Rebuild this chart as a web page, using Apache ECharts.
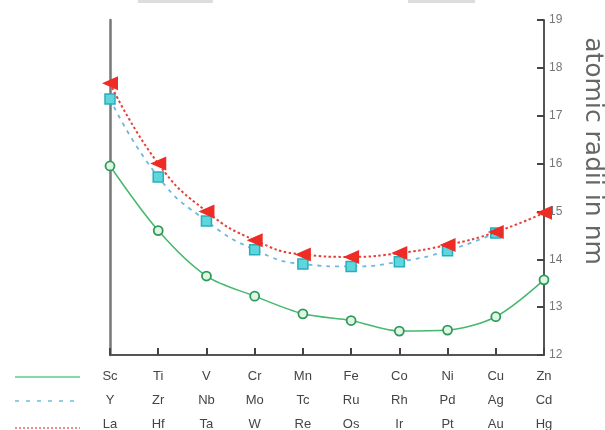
<!DOCTYPE html>
<html>
<head>
<meta charset="utf-8">
<script src="https://cdn.jsdelivr.net/npm/echarts@6/dist/echarts.min.js"></script>
<style>
  html, body { margin: 0; padding: 0; background: #fff; }
  #chart { width: 605px; height: 430px; }
</style>
</head>
<body>
<div id="chart"></div>
<script>
// element rows under the x axis
const row3d = ['Sc', 'Ti', 'V', 'Cr', 'Mn', 'Fe', 'Co', 'Ni', 'Cu', 'Zn'];
const row4d = ['Y', 'Zr', 'Nb', 'Mo', 'Tc', 'Ru', 'Rh', 'Pd', 'Ag', 'Cd'];
const row5d = ['La', 'Hf', 'Ta', 'W', 'Re', 'Os', 'Ir', 'Pt', 'Au', 'Hg'];

// atomic radii (x10 nm scale as drawn)
const radii3d = [15.95, 14.6, 13.65, 13.23, 12.86, 12.72, 12.5, 12.52, 12.8, 13.57];
const radii4d = [17.35, 15.72, 14.8, 14.2, 13.9, 13.85, 13.95, 14.18, 14.55, null];
const radii5d = [17.68, 16.0, 15.0, 14.4, 14.1, 14.05, 14.13, 14.3, 14.57, 14.97];

const yTicks = { min: 12, max: 19, step: 1 };

let myChart = echarts.init(document.getElementById('chart'));
myChart.setOption({
    animation: false,
    backgroundColor: '#fff',
    grid: {
        left: 110,
        right: 61,
        top: 20,
        bottom: 75,
        containLabel: false,
        outerBoundsMode: 'none'
    },
    xAxis: {
        type: 'category',
        boundaryGap: false,
        data: row3d,
        axisLine: { lineStyle: { color: '#555', width: 2 } },
        axisTick: { inside: true, length: 7, lineStyle: { color: '#444', width: 2 } },
        axisLabel: {
            margin: 9,
            color: '#444',
            fontFamily: 'Liberation Sans',
            fontSize: 13,
            lineHeight: 24,
            interval: 0,
            formatter: function (v, i) {
                return row3d[i] + '\n' + row4d[i] + '\n' + row5d[i];
            }
        },
        splitLine: { show: false }
    },
    yAxis: [
        {
            type: 'value',
            position: 'right',
            min: yTicks.min,
            max: yTicks.max,
            interval: yTicks.step,
            axisLine: { show: true, lineStyle: { color: '#555', width: 2 } },
            axisTick: { show: true, inside: true, length: 7, lineStyle: { color: '#444', width: 2 } },
            axisLabel: { color: '#777', fontFamily: 'Liberation Sans', fontSize: 12, margin: 5 },
            splitLine: { show: false }
        },
        {
            // plain left frame line
            type: 'value',
            position: 'left',
            min: yTicks.min,
            max: yTicks.max,
            interval: yTicks.step,
            axisLine: { show: true, lineStyle: { color: '#777', width: 2.5 } },
            axisTick: { show: false },
            axisLabel: { show: false },
            splitLine: { show: false }
        }
    ],
    series: [
        {
            name: '3d',
            type: 'line',
            yAxisIndex: 0,
            data: radii3d,
            smooth: 0.3,
            z: 3,
            lineStyle: { color: '#45b86c', width: 1.5 },
            symbol: 'circle',
            symbolSize: 9,
            itemStyle: { color: '#dff5e6', borderColor: '#2f9a58', borderWidth: 1.8 }
        },
        {
            name: '4d',
            type: 'line',
            yAxisIndex: 0,
            data: radii4d,
            smooth: true,
            z: 3,
            lineStyle: { color: '#6cb8e0', width: 1.8, type: [4, 5] },
            symbol: 'rect',
            symbolSize: 10,
            itemStyle: { color: '#5fd6dc', borderColor: '#27aebe', borderWidth: 1.5 }
        },
        {
            name: '5d',
            type: 'line',
            yAxisIndex: 0,
            data: radii5d,
            smooth: true,
            z: 4,
            lineStyle: { color: '#e4413a', width: 2, type: [2.5, 2.5] },
            symbol: 'triangle',
            symbolRotate: 90,
            symbolSize: [14, 16],
            itemStyle: { color: '#ee2b25' }
        }
    ],
    graphic: [
        {
            type: 'text',
            x: 592,
            y: 151,
            rotation: -Math.PI / 2,
            style: {
                text: 'atomic radii in nm',
                fill: '#666',
                font: '25px "DejaVu Sans", sans-serif',
                align: 'center',
                verticalAlign: 'middle'
            }
        },
        // legend keys on the left of the element rows
        {
            type: 'line',
            shape: { x1: 15, y1: 377, x2: 80, y2: 377 },
            style: { stroke: '#7fdca5', lineWidth: 2 }
        },
        {
            type: 'line',
            shape: { x1: 15, y1: 401, x2: 80, y2: 401 },
            style: { stroke: '#8fd0dc', lineWidth: 2, lineDash: [4, 7] }
        },
        {
            type: 'line',
            shape: { x1: 15, y1: 428, x2: 80, y2: 428 },
            style: { stroke: '#f08a86', lineWidth: 2, lineDash: [2, 2] }
        },
        // cropped caption remnants at the very top
        {
            type: 'rect',
            shape: { x: 138, y: 0, width: 75, height: 3 },
            style: { fill: '#ddd' }
        },
        {
            type: 'rect',
            shape: { x: 408, y: 0, width: 67, height: 3 },
            style: { fill: '#ddd' }
        }
    ]
});
</script>
</body>
</html>
